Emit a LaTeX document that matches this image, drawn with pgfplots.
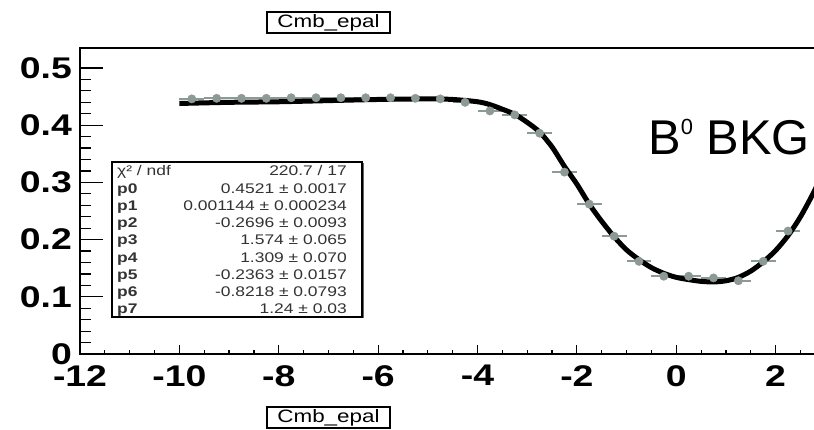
\documentclass[border=0pt]{standalone}
\usepackage{fontspec}
\setmainfont{Liberation Sans}
\newfontfamily\rootfont[FakeStretch=1.25]{Liberation Sans}
\usepackage{pgfplots}
\pgfplotsset{compat=1.18}
\definecolor{ptgrey}{HTML}{8C9994}
\newcommand\ticklab{\fontsize{30}{30}\selectfont\rootfont\bfseries}
\newcommand\statfont{\fontsize{14}{14}\selectfont\rootfont\color{black!80}}

\begin{document}
\begin{tikzpicture}
\useasboundingbox (0bp,0bp) rectangle (814bp,430bp);

% main axis: data, fit, y ticks
\begin{axis}[
  at={(80bp,76bp)}, anchor=south west,
  scale only axis, width=795bp, height=306bp,
  xmin=-12, xmax=4, ymin=0, ymax=0.535,
  axis line style={line width=1.6bp},
  xtick=\empty,
  ytick distance=0.1, minor y tick num=4,
  ytick pos=left, tick align=inside,
  major tick length=23bp, minor tick length=11bp,
  tick style={line width=1.2bp, black},
  yticklabel style={font=\ticklab, inner sep=0pt, xshift=-8bp},
  /pgf/number format/assume math mode=true,
]
\addplot[only marks, mark=*, mark size=4.2bp,
  mark options={fill=ptgrey, draw=ptgrey},
  error bars/.cd, x dir=both, x fixed=0.25,
  error bar style={line width=2bp, ptgrey}, error mark=none]
coordinates {
  (-9.75,0.446) (-9.25,0.447) (-8.75,0.447) (-8.25,0.447) (-7.75,0.448)
  (-7.25,0.448) (-6.75,0.448) (-6.25,0.448) (-5.75,0.448) (-5.25,0.447)
  (-4.75,0.446) (-4.25,0.440) (-3.75,0.425) (-3.25,0.418) (-2.75,0.386)
  (-2.25,0.318) (-1.75,0.262) (-1.25,0.206) (-0.75,0.162) (-0.25,0.136)
  (0.25,0.136) (0.75,0.133) (1.25,0.128) (1.75,0.162) (2.25,0.215)
};
\addplot[black, line width=5bp, smooth] coordinates {
  (-10,0.438) (-9,0.440) (-8,0.441) (-7,0.443) (-6,0.445) (-5,0.446)
  (-4.5,0.445) (-4,0.441) (-3.75,0.436) (-3.5,0.428) (-3.25,0.419)
  (-3.0,0.405) (-2.75,0.388) (-2.5,0.362) (-2.25,0.328) (-2.0,0.297)
  (-1.75,0.262) (-1.5,0.232) (-1.25,0.205) (-1.0,0.182) (-0.75,0.165)
  (-0.5,0.151) (-0.25,0.141) (0,0.134) (0.25,0.130) (0.5,0.127)
  (0.75,0.126) (1.0,0.128) (1.25,0.134) (1.5,0.145) (1.75,0.161)
  (2.0,0.181) (2.25,0.207) (2.5,0.240) (2.75,0.280) (3.0,0.325)
};
\end{axis}

% second axis: only the x ticks (shorter than the y ticks)
\begin{axis}[
  at={(80bp,76bp)}, anchor=south west,
  scale only axis, width=795bp, height=306bp,
  xmin=-12, xmax=4, ymin=0, ymax=0.535,
  axis line style={draw=none},
  ytick=\empty,
  xtick={-12,-10,...,2},
  minor xtick={-11.5,-11,...,3.5},
  xtick pos=bottom, tick align=inside,
  major tick length=9bp, minor tick length=4bp,
  tick style={line width=1.2bp, black},
  xticklabel style={font=\ticklab, inner sep=0pt, yshift=-11bp},
  /pgf/number format/assume math mode=true,
]
\end{axis}

% stats box
\fill[black!60] (113.5bp,111.5bp) rectangle (363.5bp,266.5bp);
\draw[line width=1.4bp, fill=white] (112bp,113bp) rectangle (362bp,268bp);
\node[anchor=base west, inner sep=0pt] at (117bp,254bp) {\statfont χ² / ndf};
\node[anchor=base east, inner sep=0pt] at (347bp,254bp) {\statfont 220.7 / 17};
\foreach \n/\v [count=\i from 1] in {p0/0.4521 ± 0.0017, p1/0.001144 ± 0.000234,
  p2/-0.2696 ± 0.0093, p3/1.574 ± 0.065, p4/1.309 ± 0.070,
  p5/-0.2363 ± 0.0157, p6/-0.8218 ± 0.0793, p7/1.24 ± 0.03} {
  \node[anchor=base west, inner sep=0pt] at (117bp,254bp-\i*17.25bp) {\statfont\bfseries \n};
  \node[anchor=base east, inner sep=0pt] at (347bp,254bp-\i*17.25bp) {\statfont \v};
}

% titles
\node[draw, line width=1.3bp, minimum width=123bp, minimum height=21bp, inner sep=0pt]
  at (328.5bp,407.5bp) {\fontsize{18}{18}\selectfont\rootfont Cmb\_epal};
\node[draw, line width=1.3bp, minimum width=123bp, minimum height=21bp, inner sep=0pt]
  at (328.5bp,12.5bp) {\fontsize{18}{18}\selectfont\rootfont Cmb\_epal};

\node[anchor=base west, inner sep=0pt] at (648bp,275bp)
  {\fontsize{49}{49}\selectfont B\raisebox{20bp}{\fontsize{22}{22}\selectfont 0} BKG};
\end{tikzpicture}
\end{document}
